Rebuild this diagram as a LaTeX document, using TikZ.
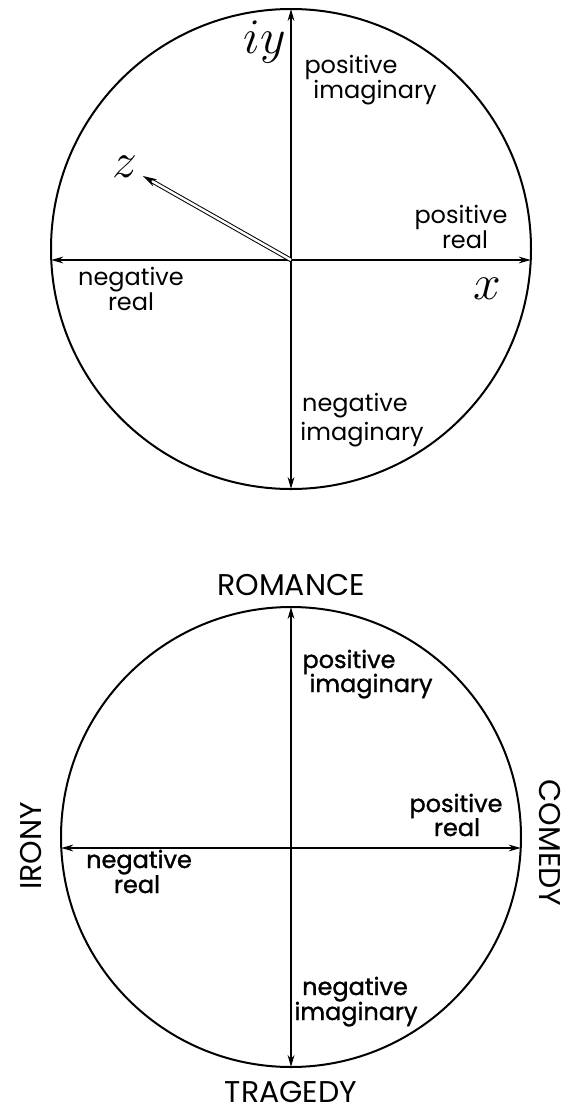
\documentclass[tikz,border=0pt]{standalone}
\usepackage{fontspec}
\setmainfont{Poppins}
\usetikzlibrary{arrows.meta}
\begin{document}
\begin{tikzpicture}[x=0.5pt,y=-0.5pt,
  ring/.style={circle,draw,line width=1pt,inner sep=0pt,minimum size=240pt},
  axis/.style={line width=0.75pt,-{Stealth[length=6pt,width=3.4pt]}},
  lbl/.style={anchor=base,inner sep=0pt,font=\fontsize{12}{12}\selectfont},
  blbl/.style={anchor=base,inner sep=0pt,font=\fontsize{12}{12}\selectfont\addfontfeature{FakeBold=1.2}},
  capslbl/.style={inner sep=0pt,font=\fontsize{15}{15}\selectfont},
  mth/.style={inner sep=0pt,font=\fontsize{28}{28}\selectfont}]
\useasboundingbox (0,0) rectangle (572,1110);
% ---------- top diagram ----------
\node[ring] (C1) at (291,249) {};
\coordinate (O1) at (291,260);
\coordinate (T1) at (291,9);
\coordinate (B1) at (291,489);
\coordinate (L1) at (51.3,260);
\coordinate (R1) at (530.7,260);
\coordinate (Z1) at (143,176);
\draw[axis] (O1) -- (T1);
\draw[axis] (O1) -- (B1);
\draw[axis] (O1) -- (L1);
\draw[axis] (O1) -- (R1);
\draw[line width=0.5pt,double,double distance=1.2pt,-{Stealth[length=7pt,width=4pt]}] (O1) -- (Z1);
\node[mth] (iy) at (265,42) {$iy$};
\node[mth] (zl) at (125,167) {$z$};
\node[mth] (xl) at (487,289) {$x$};
\node[lbl] (pi1a) at (351,73) {positive};
\node[lbl] (pi1b) at (375,98) {imaginary};
\node[lbl] (pr1a) at (461,223) {positive};
\node[lbl] (pr1b) at (465,248) {real};
\node[lbl] (nr1a) at (131,285) {negative};
\node[lbl] (nr1b) at (131,310) {real};
\node[lbl] (ni1a) at (355,411) {negative};
\node[lbl] (ni1b) at (362,440) {imaginary};
% ---------- bottom diagram ----------
\node[ring,minimum size=230pt] (C2) at (291,837) {};
\coordinate (O2) at (291,848);
\coordinate (T2) at (291,607);
\coordinate (B2) at (291,1067);
\coordinate (L2) at (61.3,848);
\coordinate (R2) at (520.7,848);
\draw[axis] (O2) -- (T2);
\draw[axis] (O2) -- (B2);
\draw[axis] (O2) -- (L2);
\draw[axis] (O2) -- (R2);
\node[blbl] (pi2a) at (349,668) {positive};
\node[blbl] (pi2b) at (371,692) {imaginary};
\node[blbl] (pr2a) at (456,812) {positive};
\node[blbl] (pr2b) at (457,836) {real};
\node[blbl] (nr2a) at (139,868) {negative};
\node[blbl] (nr2b) at (137,893) {real};
\node[blbl] (ni2a) at (355,995) {negative};
\node[blbl] (ni2b) at (356,1020) {imaginary};
\node[capslbl,anchor=base] (rom) at (291,595) {ROMANCE};
\node[capslbl,anchor=base] (tra) at (291,1102) {TRAGEDY};
\node[capslbl,rotate=90] (iro) at (31,846) {IRONY};
\node[capslbl,rotate=-90] (com) at (550,843) {COMEDY};
\end{tikzpicture}
\end{document}
